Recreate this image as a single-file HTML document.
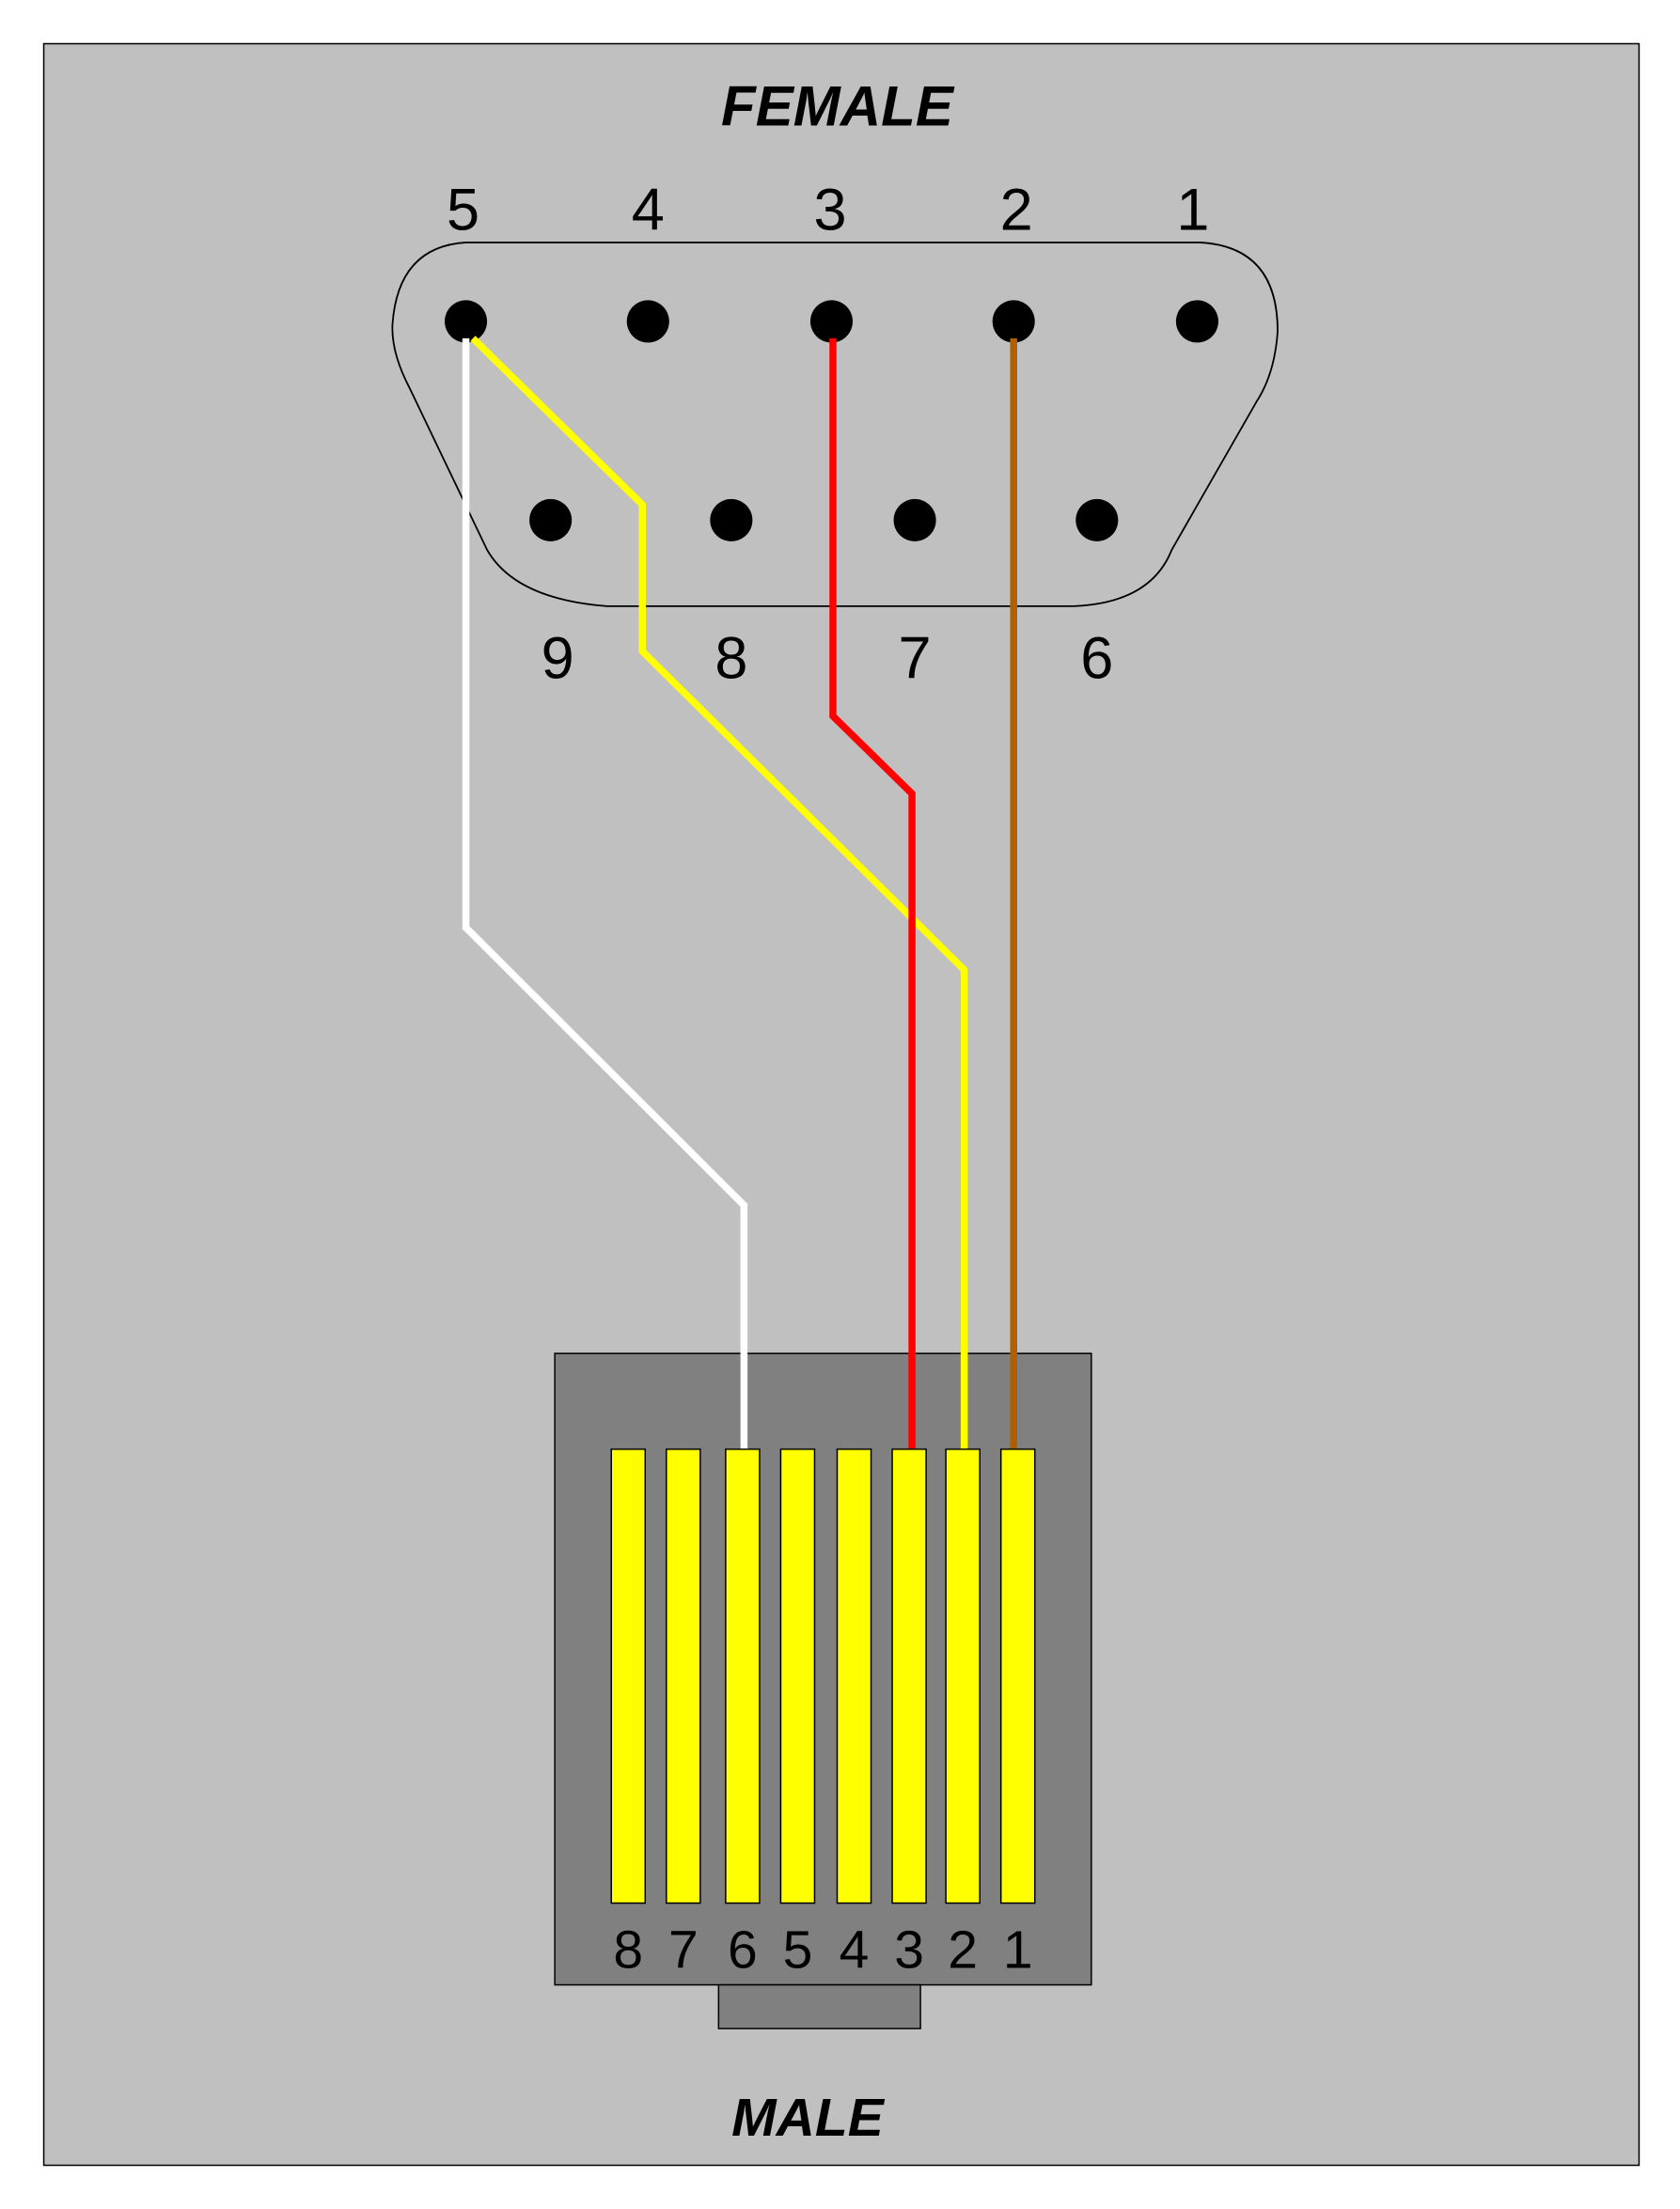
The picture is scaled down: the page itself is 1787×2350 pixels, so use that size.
<!DOCTYPE html>
<html><head><meta charset="utf-8"><style>html,body{margin:0;padding:0;background:#fff}svg{display:block}</style></head>
<body>
<svg width="1787" height="2350" viewBox="0 0 1190 1567" preserveAspectRatio="none" xmlns="http://www.w3.org/2000/svg">
<rect x="0" y="0" width="1190" height="1567" fill="#fff"/>
<rect x="31" y="31" width="1130" height="1505" fill="#c0c0c0" stroke="#000" stroke-width="1"/>
<g font-family="Liberation Sans, sans-serif" fill="#000">
<text x="593" y="89" font-size="40" font-weight="bold" font-style="italic" text-anchor="middle">FEMALE</text>
<text x="572" y="1515" font-size="38" font-weight="bold" font-style="italic" text-anchor="middle">MALE</text>
<g font-size="42" text-anchor="middle">
<text x="328" y="163">5</text><text x="459" y="163">4</text><text x="588" y="163">3</text><text x="720" y="163">2</text><text x="845" y="163">1</text>
<text x="395" y="481">9</text><text x="518" y="481">8</text><text x="648" y="481">7</text><text x="777" y="481">6</text>
</g>
</g>
<path d="M330,172 L850,172 Q905,175 905,235 Q903,265 890,285 L830,390 Q815,428 760,430 L430,430 Q365,425 345,390 L290,275 Q277,250 278,230 Q282,175 330,172 Z" fill="none" stroke="#000" stroke-width="1.2"/>
<g fill="#000">
<circle cx="330" cy="228" r="15"/><circle cx="459" cy="228" r="15"/><circle cx="589" cy="228" r="15"/><circle cx="718" cy="228" r="15"/><circle cx="848" cy="228" r="15"/>
<circle cx="390" cy="369" r="15"/><circle cx="518" cy="369" r="15"/><circle cx="648" cy="369" r="15"/><circle cx="777" cy="369" r="15"/>
</g>
<rect x="393" y="960" width="380" height="448" fill="#808080" stroke="#000" stroke-width="1"/>
<rect x="509" y="1408" width="143" height="31" fill="#808080" stroke="#000" stroke-width="1"/>
<g fill="none" stroke-width="5" stroke-linejoin="miter">
<polyline points="330,240 330,658 527,855 527,1030" stroke="#fff"/>
<polyline points="335,240 455,358 455,462 683,688 683,1030" stroke="#ffff00"/>
<polyline points="590,240 590,508 646,563 646,1030" stroke="#ff0000"/>
<polyline points="718,240 718,1030" stroke="#b05f00"/>
</g>
<g fill="#ffff00" stroke="#000" stroke-width="1">
<rect x="433" y="1028" width="24" height="322"/><rect x="472" y="1028" width="24" height="322"/><rect x="514" y="1028" width="24" height="322"/><rect x="553" y="1028" width="24" height="322"/>
<rect x="593" y="1028" width="24" height="322"/><rect x="632" y="1028" width="24" height="322"/><rect x="670" y="1028" width="24" height="322"/><rect x="709" y="1028" width="24" height="322"/>
</g>
<g font-family="Liberation Sans, sans-serif" font-size="38" text-anchor="middle" fill="#000">
<text x="445" y="1396">8</text><text x="484" y="1396">7</text><text x="526" y="1396">6</text><text x="565" y="1396">5</text><text x="605" y="1396">4</text><text x="644" y="1396">3</text><text x="682" y="1396">2</text><text x="721" y="1396">1</text>
</g>
</svg>
</body></html>
